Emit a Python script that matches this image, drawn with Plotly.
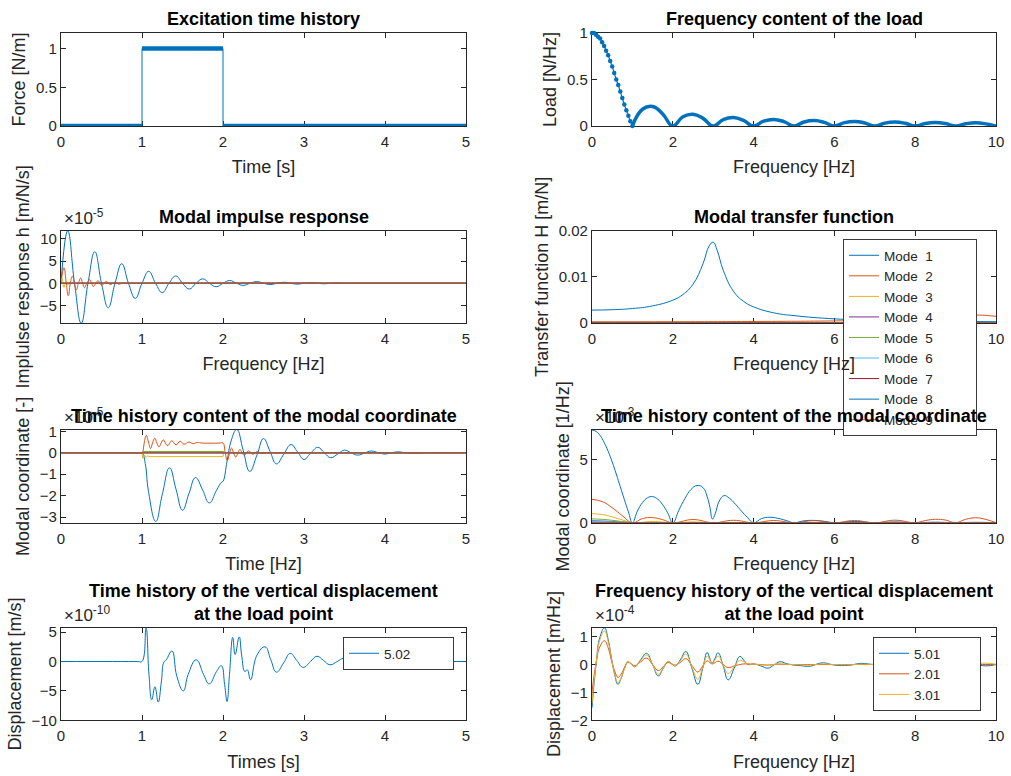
import plotly.graph_objects as go

# ---------------- data ----------------
# Panel 1: excitation time history [N/m]
exc_t = [0, 1, 1, 2, 2, 5]
exc_force = [0, 0, 1, 1, 0, 0]

# Panel 2: frequency content of the load [N/Hz]
load_f_main = [0, 0.05, 0.1, 0.15, 0.2, 0.25, 0.3, 0.35, 0.4, 0.45, 0.5,
               0.55, 0.6, 0.65, 0.7, 0.75, 0.8, 0.85, 0.9, 0.95, 1.0]
load_main = [1.00, 1.00, 0.98, 0.96, 0.94, 0.90, 0.86, 0.81, 0.76, 0.70, 0.64,
             0.57, 0.50, 0.44, 0.37, 0.30, 0.23, 0.17, 0.11, 0.05, 0.00]
load_f_side = [1.0, 1.25, 1.5, 1.75, 2.0, 2.25, 2.5, 2.75, 3.0, 3.25, 3.5, 3.75,
               4.0, 4.25, 4.5, 4.75, 5.0, 5.25, 5.5, 5.75, 6.0, 6.25, 6.5, 6.75,
               7.0, 7.25, 7.5, 7.75, 8.0, 8.25, 8.5, 8.75, 9.0, 9.25, 9.5, 9.75, 10.0]
load_side = [0, 0.18, 0.21, 0.13, 0, 0.10, 0.127, 0.082, 0, 0.069, 0.091, 0.060,
             0, 0.053, 0.071, 0.047, 0, 0.043, 0.058, 0.039, 0, 0.036, 0.049, 0.033,
             0, 0.031, 0.042, 0.029, 0, 0.027, 0.037, 0.026, 0, 0.024, 0.034, 0.023, 0]

# Panel 3: modal impulse response (x1e-5 m/N/s)
imp_t1 = [0, 0.083, 0.167, 0.25, 0.333, 0.417, 0.5, 0.583, 0.667, 0.75, 0.833, 0.917,
          1.0, 1.083, 1.167, 1.25, 1.333, 1.417, 1.5, 1.583, 1.667, 1.75, 1.833, 1.917,
          2.0, 2.083, 2.167, 2.25, 2.333, 2.417, 2.5, 2.583, 2.667, 2.75, 2.833, 2.917,
          3.0, 3.083, 3.167, 3.25, 3.333, 3.417, 3.5, 3.6, 5.0]
imp_h1 = [0, 11.8, 0, -9.0, 0, 7.1, 0, -5.5, 0, 4.4, 0, -3.4,
          0, 2.7, 0, -2.1, 0, 1.65, 0, -1.3, 0, 1.0, 0, -0.78,
          0, 0.62, 0, -0.48, 0, 0.38, 0, -0.29, 0, 0.23, 0, -0.18,
          0, 0.14, 0, -0.11, 0, 0.08, 0, 0, 0]
imp_t2 = [0, 0.037, 0.065, 0.09, 0.115, 0.14, 0.165, 0.19, 0.215, 0.243, 0.267, 0.29,
          0.32, 0.354, 0.377, 0.40, 0.43, 0.457, 0.48, 0.505, 0.53, 0.56, 0.585, 0.61,
          0.64, 0.665, 0.69, 0.72, 0.75, 0.8, 5.0]
imp_h2 = [0, 3.5, 0, -2.8, 0, 1.6, 0, -1.5, 0, 1.2, 0, -1.0,
          0, 0.8, 0, -0.7, 0, 0.6, 0, -0.5, 0, 0.4, 0, -0.3,
          0, 0.25, 0, -0.2, 0, 0, 0]
imp_t3 = [0, 0.012, 0.025, 0.037, 0.05, 0.062, 0.075, 0.087, 0.1, 0.112, 0.125, 0.14, 5.0]
imp_h3 = [0, 1.2, 0, -0.9, 0, 0.6, 0, -0.4, 0, 0.25, 0, 0, 0]
imp_t_flat = [0, 5]
imp_h_flat = [0, 0]

# Panel 4: modal transfer function [m/N]
tf_f1 = [0, 0.5, 1, 1.5, 2, 2.25, 2.5, 2.75, 2.9, 3.0, 3.1, 3.25, 3.5, 3.75, 4,
         4.5, 5, 6, 7, 8, 9, 10]
tf_h1 = [0.0028, 0.00288, 0.00314, 0.00371, 0.00495, 0.00617, 0.0084, 0.0129, 0.0167,
         0.0175, 0.0157, 0.0114, 0.0069, 0.0047, 0.0035, 0.0022, 0.0016, 0.0009,
         0.0006, 0.00046, 0.00035, 0.00028]
tf_f2 = [0, 2, 4, 6, 7, 8, 8.5, 9, 9.3, 9.6, 9.8, 10]
tf_h2 = [0.00027, 0.00028, 0.00033, 0.00045, 0.0006, 0.00085, 0.0011, 0.0014,
         0.00162, 0.0017, 0.0016, 0.00145]
tf_f3 = [0, 10]
tf_h3 = [0.0001, 0.00012]
tf_f_flat = [0, 10]
tf_h_flat = [0, 0]

# Panel 5: modal coordinate, time (x1e-5)
mc_t1 = [0, 0.95, 1.0, 1.04, 1.08, 1.17, 1.25, 1.34, 1.42, 1.50, 1.58, 1.66, 1.75, 1.83,
         1.92, 1.98, 2.0, 2.05, 2.1, 2.17, 2.25, 2.33, 2.42, 2.5, 2.58, 2.66, 2.75,
         2.84, 2.92, 3.0, 3.08, 3.17, 3.25, 3.33, 3.42, 3.5, 3.58, 3.66, 3.75, 3.83,
         3.92, 4.0, 4.08, 4.17, 4.25, 4.33, 4.5, 4.6, 5.0]
mc_q1 = [0, 0, 0, -0.5, -1.8, -3.2, -1.95, -0.7, -1.7, -2.68, -1.9, -1.16, -1.75, -2.34,
         -1.75, -1.38, -1.33, -0.4, 0.55, 1.09, 0.1, -0.87, -0.1, 0.66, 0.07, -0.52, -0.07,
         0.38, 0.04, -0.31, -0.03, 0.25, 0.0, -0.23, -0.05, 0.12, 0.0, -0.11, -0.01, 0.08,
         0.0, -0.06, 0.0, 0.04, 0.0, -0.03, 0, 0, 0]
mc_t2 = [0, 0.95, 1.0, 1.027, 1.053, 1.08, 1.105, 1.13, 1.158, 1.184, 1.21, 1.236, 1.263,
         1.29, 1.315, 1.342, 1.368, 1.42, 1.47, 1.52, 1.58, 1.63, 1.68, 1.75, 1.95, 2.0,
         2.027, 2.053, 2.08, 2.105, 2.13, 2.158, 2.184, 2.21, 2.236, 2.263, 2.315,
         2.368, 2.42, 2.47, 2.55, 2.65, 5.0]
mc_q2 = [0, 0, 0, 0.45, 0.81, 0.5, 0.2, 0.45, 0.68, 0.45, 0.27, 0.45, 0.6,
         0.45, 0.33, 0.45, 0.56, 0.37, 0.53, 0.4, 0.5, 0.42, 0.48, 0.45, 0.45, 0.45,
         0.0, -0.36, -0.05, 0.22, 0.0, -0.2, 0.0, 0.15, 0.0, -0.12, 0.09,
         -0.07, 0.05, -0.03, 0, 0, 0]
mc_t3 = [0, 1.0, 1.01, 1.03, 1.05, 1.07, 1.1, 2.0, 2.01, 2.03, 2.05, 2.07, 2.1, 5.0]
mc_q3 = [0, 0, -0.26, -0.1, -0.22, -0.15, -0.18, -0.18, 0.06, -0.05, 0.03, -0.01, 0, 0]
mc_t5 = [0, 1.0, 1.02, 2.0, 2.02, 5.0]
mc_q5 = [0, 0, 0.06, 0.06, 0, 0]
mc_t_flat = [0, 5]
mc_q_flat = [0, 0]

# Panel 6: modal coordinate, frequency (x1e-3 1/Hz)
mf_f1 = [0, 0.1, 0.2, 0.3, 0.4, 0.5, 0.6, 0.7, 0.8, 0.9, 1.0,
         1.125, 1.25, 1.375, 1.5, 1.625, 1.75, 1.875, 2.0,
         2.15, 2.3, 2.45, 2.6, 2.75, 2.85, 2.92, 2.98, 3.05, 3.15, 3.27, 3.4, 3.55, 3.7, 3.85, 4.0,
         4.2, 4.4, 4.6, 4.8, 5.0, 5.25, 5.5, 5.75, 6.0,
         6.5, 7.0, 7.5, 8.0, 8.5, 9.0, 9.5, 10.0]
mf_q1 = [7.36, 7.25, 6.92, 6.38, 5.67, 4.82, 3.87, 2.86, 1.85, 0.88, 0.0,
         0.93, 1.6, 1.98, 2.07, 1.87, 1.42, 0.78, 0.0,
         0.99, 1.92, 2.64, 2.95, 2.78, 2.07, 1.21, 0.3, 0.72, 1.72, 2.15, 1.94, 1.47, 0.92, 0.41, 0.0,
         0.33, 0.43, 0.35, 0.18, 0.0, 0.15, 0.18, 0.11, 0.0,
         0.1, 0.0, 0.06, 0.0, 0.04, 0.0, 0.03, 0.0]
mf_f2 = [0, 0.25, 0.5, 0.75, 1.0, 1.25, 1.5, 1.75, 2.0, 2.5, 3.0, 3.5, 4.0, 4.5, 5.0,
         5.5, 6.0, 6.5, 7.0, 7.5, 8.0, 8.25, 8.5, 8.75, 9.0, 9.25, 9.5, 9.75, 10.0]
mf_q2 = [1.85, 1.68, 1.19, 0.56, 0.0, 0.33, 0.40, 0.24, 0.0, 0.25, 0.0, 0.19, 0.0, 0.17, 0.0,
         0.16, 0.0, 0.17, 0.0, 0.2, 0.0, 0.17, 0.27, 0.21, 0.0, 0.27, 0.39, 0.26, 0.0]
mf_f3 = [0, 0.25, 0.5, 0.75, 1.0, 1.5, 2.0, 2.5, 3.0, 3.2, 10.0]
mf_q3 = [0.72, 0.65, 0.46, 0.22, 0.0, 0.1, 0.0, 0.06, 0.0, 0.0, 0.0]
mf_f4 = [0, 0.5, 1.0, 1.2, 10.0]
mf_q4 = [0.15, 0.1, 0.0, 0.0, 0.0]
mf_f5 = [0, 0.25, 0.5, 0.75, 1.0, 1.2, 10.0]
mf_q5 = [0.3, 0.27, 0.19, 0.09, 0.0, 0.0, 0.0]
mf_f6 = [0, 0.5, 1.0, 1.2, 10.0]
mf_q6 = [0.1, 0.06, 0.0, 0.0, 0.0]
mf_f_flat = [0, 10]
mf_q_flat = [0, 0]

# Panel 7: vertical displacement at the load point, time (x1e-10)
disp_t = [0, 0.95, 1.0, 1.05, 1.086, 1.12, 1.16, 1.20, 1.24, 1.27, 1.30,
          1.37, 1.43, 1.51, 1.57, 1.67, 1.76, 1.83, 1.92, 1.98, 2.02,
          2.05, 2.08, 2.12, 2.15, 2.20, 2.23, 2.27, 2.30, 2.34, 2.42,
          2.52, 2.59, 2.66, 2.75, 2.83, 2.91, 2.99, 3.08, 3.16, 3.24,
          3.32, 3.41, 3.49, 3.58, 3.66, 3.75, 3.83, 3.91, 4.0, 4.08,
          4.16, 4.25, 4.33, 4.42, 4.5, 4.6, 4.7, 4.8, 5.0]
disp_v = [0, 0, 0, 5.7, -2.2, -6.5, -4.3, -6.9, -3.3, -0.1, 0.3,
          1.8, -2.5, -5.0, -2.2, 0.3, -2.2, -3.8, -1.7, -0.7, -3.9,
          -6.8, -2.2, 4.1, 1.2, 4.2, 1.1, -1.7, -1.4, -3.1, 1.1,
          2.5, 0.3, -1.8, -0.2, 1.4, 0.2, -1.0, 0.0, 0.9, 0.2,
          -0.55, 0.0, 0.55, 0.1, -0.35, 0.0, 0.3, 0.05, -0.2, 0.0,
          0.15, 0.0, -0.1, 0.0, 0.07, 0.0, -0.03, 0, 0]
disp_name = "5.02"

# Panel 8: vertical displacement at the load point, frequency (x1e-4)
fd = [0, 0.1, 0.2, 0.31, 0.4, 0.48, 0.56, 0.64, 0.72, 0.8,
      0.89, 0.97, 1.06, 1.2, 1.35, 1.5, 1.64, 1.76, 1.88, 1.97,
      2.06, 2.2, 2.32, 2.47, 2.62, 2.74, 2.85, 2.91, 2.97, 3.04,
      3.12, 3.25, 3.37, 3.52, 3.66, 3.76, 3.86, 4.0, 4.18, 4.36,
      4.5, 4.65, 4.8, 4.95, 5.15, 5.4, 5.7, 6.0, 6.35, 6.65,
      7.0, 7.5, 8.0, 8.5, 9.0, 9.4, 9.75, 10.0]
fd_501 = [-1.55, 0.0, 1.0, 1.31, 0.9, 0.25, -0.35, -0.71, -0.5, -0.15,
          0.1, 0.02, -0.08, 0.16, 0.4, 0.0, -0.41, -0.15, 0.1, 0.03,
          -0.05, 0.2, 0.47, -0.12, -0.71, -0.14, 0.43, 0.25, 0.04, 0.2,
          0.42, -0.06, -0.55, -0.13, 0.29, 0.15, 0.0, 0.02, -0.05, -0.13,
          -0.02, 0.1, 0.04, -0.01, -0.04, -0.06, 0.06, -0.02, -0.03, 0.04,
          0.0, 0.03, -0.02, 0.02, -0.02, 0.02, -0.05, 0.0]
fd_201 = [-1.0, 0.05, 0.65, 0.85, 0.6, 0.15, -0.22, -0.46, -0.35, -0.12,
          0.08, 0.02, -0.04, 0.09, 0.23, 0.0, -0.22, -0.08, 0.07, 0.02,
          -0.02, 0.09, 0.21, -0.03, -0.27, -0.05, 0.13, 0.08, 0.02, 0.06,
          0.12, 0.0, -0.11, -0.05, 0.0, 0.02, 0.02, 0.01, 0.0, -0.02,
          0.0, 0.01, 0.0, 0.0, 0.0, 0.0, 0.0, 0.0, 0.0, 0.0,
          0.0, 0.0, 0.0, 0.0, 0.0, 0.0, 0.0, 0.0]
fd_301 = [-1.4, 0.02, 0.9, 1.2, 0.82, 0.22, -0.32, -0.65, -0.48, -0.17,
          0.1, 0.02, -0.07, 0.13, 0.34, 0.0, -0.35, -0.13, 0.1, 0.03,
          -0.04, 0.16, 0.37, -0.08, -0.53, -0.1, 0.3, 0.18, 0.03, 0.15,
          0.3, -0.03, -0.32, -0.08, 0.15, 0.1, 0.02, 0.01, -0.01, -0.03,
          0.0, 0.03, 0.01, 0.0, -0.01, -0.02, 0.02, 0.0, -0.01, 0.01,
          0.0, 0.01, 0.0, 0.0, 0.0, 0.01, 0.05, 0.01]
fd_names = ["5.01", "2.01", "3.01"]

mode_names = ["Mode\u00a0 %d" % k for k in range(1, 10)]

# ---------------- styling ----------------
W, H = 1011, 776
FONT = "Liberation Sans, Arial, Helvetica, sans-serif"
AX = "#262626"
C = ["#0072BD", "#D95319", "#EDB120", "#7E2F8E", "#77AC30",
     "#4DBEEE", "#A2142F", "#0072BD", "#D95319"]
PAD = "\u00a0" * 10  # widens the legend boxes like the MATLAB ones

COLS = [(61, 466), (592, 996)]
ROWS = [(33, 126), (230.7, 323), (430, 522.7), (627.7, 720.3)]


def px_x(v):
    return v / W


def px_y(v):
    return 1 - v / H


panels = {
    1: dict(col=0, row=0, xr=[0, 5], yr=[0, 1.2], xt=[0, 1, 2, 3, 4, 5], yt=[0, 0.5, 1],
            xl="Time [s]", yl="Force [N/m]", title="Excitation time history"),
    2: dict(col=1, row=0, xr=[0, 10], yr=[0, 1], xt=[0, 2, 4, 6, 8, 10], yt=[0, 0.5, 1],
            xl="Frequency [Hz]", yl="Load [N/Hz]", title="Frequency content of the load"),
    3: dict(col=0, row=1, xr=[0, 5], yr=[-8.95, 11.85], xt=[0, 1, 2, 3, 4, 5], yt=[-5, 0, 5, 10],
            xl="Frequency [Hz]", yl="Implulse response h [m/N/s]", title="Modal impulse response"),
    4: dict(col=1, row=1, xr=[0, 10], yr=[0, 0.02], xt=[0, 2, 4, 6, 8, 10], yt=[0, 0.01, 0.02],
            xl="Frequency [Hz]", yl="Transfer function H [m/N]", title="Modal transfer function"),
    5: dict(col=0, row=2, xr=[0, 5], yr=[-3.26, 1.06], xt=[0, 1, 2, 3, 4, 5], yt=[-3, -2, -1, 0, 1],
            xl="Time [Hz]", yl="Modal coordinate [-]",
            title="Time history content of the modal coordinate"),
    6: dict(col=1, row=2, xr=[0, 10], yr=[0, 7.36], xt=[0, 2, 4, 6, 8, 10], yt=[0, 5],
            xl="Frequency [Hz]", yl="Modal coordinate [1/Hz]",
            title="Time history content of the modal coordinate"),
    7: dict(col=0, row=3, xr=[0, 5], yr=[-10, 5.76], xt=[0, 1, 2, 3, 4, 5], yt=[-10, -5, 0, 5],
            xl="Times [s]", yl="Displacement [m/s]",
            title="Time history of the vertical displacement<br>at the load point"),
    8: dict(col=1, row=3, xr=[0, 10], yr=[-2, 1.32], xt=[0, 2, 4, 6, 8, 10], yt=[-2, -1, 0, 1],
            xl="Frequency [Hz]", yl="Displacement [m/Hz]",
            title="Frequency history of the vertical displacement<br>at the load point"),
}
exponents = {3: "-5", 5: "-5", 6: "-3", 7: "-10", 8: "-4"}

fig = go.Figure()


def add(p, x, y, color, width=1.0, name=None, legend=None, shape="spline",
        mode="lines", marker=None, clip=True):
    fig.add_trace(go.Scatter(
        x=x, y=y, mode=mode, name=name,
        line=dict(color=color, width=width, shape=shape,
                  smoothing=1.3 if shape == "spline" else None),
        marker=marker, showlegend=legend is not None, legend=legend or "legend",
        xaxis="x" if p == 1 else "x%d" % p, yaxis="y" if p == 1 else "y%d" % p,
        cliponaxis=clip, hoverinfo="skip"))


# Panel 1
add(1, exc_t, exc_force, C[0], 1.0, shape="linear")
seg_x, seg_y = [], []
for i in range(len(exc_t) - 1):
    if exc_force[i] == exc_force[i + 1]:
        seg_x += [exc_t[i], exc_t[i + 1], None]
        seg_y += [exc_force[i], exc_force[i + 1], None]
add(1, seg_x, seg_y, C[0], 4.5, shape="linear")

# Panel 2
add(2, load_f_side, load_side, C[0], 3.5)
add(2, load_f_main, load_main, C[0], 1.2, mode="lines+markers",
    marker=dict(size=4.5, color=C[0]), clip=False)

# Panel 3
imp_series = [(imp_t1, imp_h1), (imp_t2, imp_h2), (imp_t3, imp_h3)] + \
             [(imp_t_flat, imp_h_flat)] * 6
for k, (x, y) in enumerate(imp_series):
    add(3, x, y, C[k])

# Panel 4 (with legend)
tf_series = [(tf_f1, tf_h1), (tf_f2, tf_h2), (tf_f3, tf_h3)] + [(tf_f_flat, tf_h_flat)] * 6
for k, (x, y) in enumerate(tf_series):
    add(4, x, y, C[k], name=mode_names[k] + PAD, legend="legend")

# Panel 5
mc_series = [(mc_t1, mc_q1, "spline"), (mc_t2, mc_q2, "spline"), (mc_t3, mc_q3, "linear"),
             (mc_t_flat, mc_q_flat, "linear"), (mc_t5, mc_q5, "linear")] + \
            [(mc_t_flat, mc_q_flat, "linear")] * 4
for k, (x, y, shp) in enumerate(mc_series):
    add(5, x, y, C[k], shape=shp)

# Panel 6
mf_series = [(mf_f1, mf_q1), (mf_f2, mf_q2), (mf_f3, mf_q3), (mf_f4, mf_q4),
             (mf_f5, mf_q5), (mf_f6, mf_q6)] + [(mf_f_flat, mf_q_flat)] * 3
for k, (x, y) in enumerate(mf_series):
    add(6, x, y, C[k])

# Panel 7
add(7, disp_t, disp_v, C[0], name=disp_name + PAD, legend="legend2")

# Panel 8
for k, y in enumerate([fd_501, fd_201, fd_301]):
    add(8, fd, y, C[k], name=fd_names[k] + "\u00a0" * 9, legend="legend3")

# ---------------- axes ----------------
layout = dict(width=W, height=H, margin=dict(l=0, r=0, t=0, b=0, autoexpand=False),
              paper_bgcolor="white", plot_bgcolor="white",
              font=dict(family=FONT, size=15, color=AX))
annotations = []
for p, d in panels.items():
    x0, x1 = COLS[d["col"]]
    y0, y1 = ROWS[d["row"]]
    common = dict(showline=True, linecolor=AX, linewidth=1.2, mirror="ticks",
                  ticks="inside", ticklen=5, tickcolor=AX, tickwidth=1,
                  showgrid=False, zeroline=False, layer="below traces", automargin=False,
                  tickfont=dict(family=FONT, size=15, color=AX), fixedrange=True)
    sfx = "" if p == 1 else str(p)
    layout["xaxis" + sfx] = dict(common, domain=[px_x(x0), px_x(x1)], range=d["xr"],
                                 tickvals=d["xt"], anchor="y" + sfx, ticklabelstandoff=2,
                                 title=dict(text=d["xl"], standoff=11,
                                            font=dict(family=FONT, size=18, color=AX)))
    layout["yaxis" + sfx] = dict(common, domain=[px_y(y1), px_y(y0)], range=d["yr"],
                                 tickvals=d["yt"], anchor="x" + sfx,
                                 title=dict(text=d["yl"], standoff=5,
                                            font=dict(family=FONT, size=18, color=AX)))
    two_lines = "<br>" in d["title"]
    title_text = "<br>".join("<b>%s</b>" % s for s in d["title"].split("<br>"))
    annotations.append(dict(text=title_text, xref="paper", yref="paper",
                            x=px_x((x0 + x1) / 2), y=px_y(y0 - (25.5 if two_lines else 14)),
                            xanchor="center", yanchor="middle", showarrow=False,
                            font=dict(family=FONT, size=18, color="black")))
    if p in exponents:
        annotations.append(dict(text="\u00d710<sup>%s</sup>" % exponents[p],
                                xref="paper", yref="paper", x=px_x(x0 + 1), y=px_y(y0 - 1),
                                xanchor="left", yanchor="bottom", showarrow=False,
                                font=dict(family=FONT, size=17, color=AX)))
layout["annotations"] = annotations

leg_common = dict(bgcolor="white", bordercolor="#3a3a3a", borderwidth=1,
                  font=dict(family=FONT, size=13.5, color=AX), xanchor="left",
                  yanchor="top", tracegroupgap=0, itemclick=False, itemdoubleclick=False)
layout["legend"] = dict(leg_common, x=px_x(843), y=px_y(239))
layout["legend2"] = dict(leg_common, x=px_x(343), y=px_y(637))
layout["legend3"] = dict(leg_common, x=px_x(873), y=px_y(637))

fig.update_layout(**layout)
fig.write_html("out.html", config=dict(displayModeBar=False))
